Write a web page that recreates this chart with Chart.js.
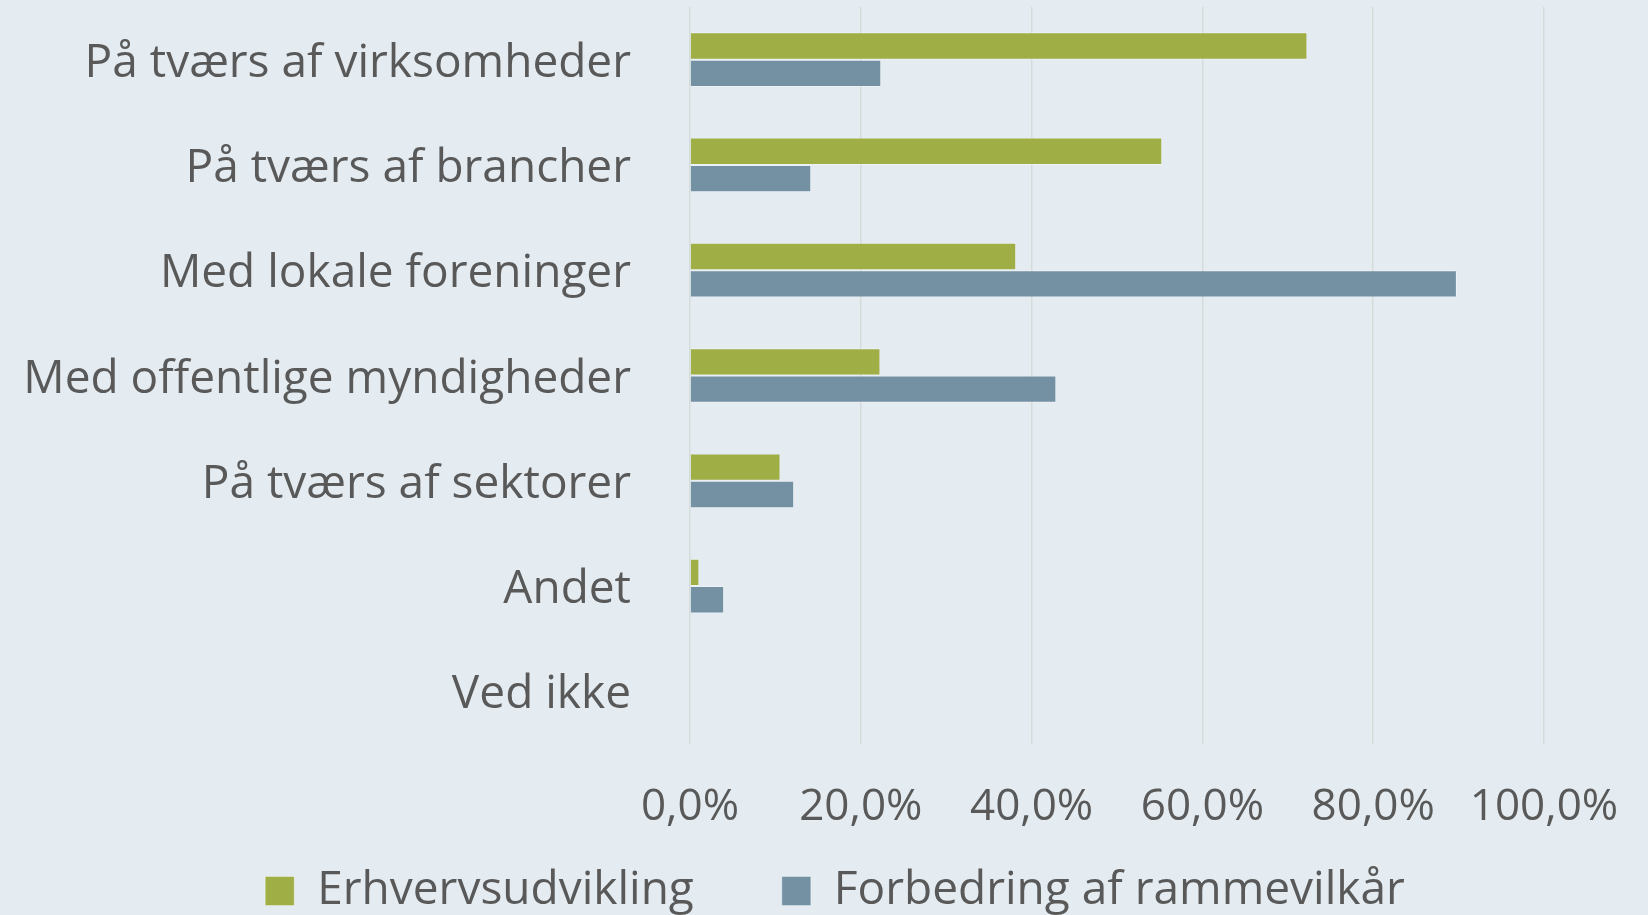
<!DOCTYPE html>
<html>
<head>
<meta charset="utf-8">
<script src="https://cdn.jsdelivr.net/npm/chart.js@4"></script>
<style>
  html, body { margin: 0; padding: 0; background: #e4ecf1; overflow: hidden; }
  #wrap { width: 1648px; height: 924px; }
</style>
</head>
<body>
<div id="wrap"><canvas id="myChart"></canvas></div>
<script>
// data
const categories = ['På tværs af virksomheder', 'På tværs af brancher', 'Med lokale foreninger',
  'Med offentlige myndigheder', 'På tværs af sektorer', 'Andet', 'Ved ikke'];
const erhvervsudvikling = [72.3, 55.3, 38.2, 22.3, 10.6, 1.1, 0];
const rammevilkaar = [22.4, 14.2, 89.8, 42.9, 12.2, 4.0, 0];
const seriesNames = ['Erhvervsudvikling', 'Forbedring af rammevilkår'];

const font = 'Open Sans';
const textColor = '#595959';
const padLeft = 126;

// labels sit outside their scale box, so don't clip them
const noClip = s => { s._computeLabelArea = () => undefined; };

var ctx = document.getElementById('myChart');

var myChart = new Chart(ctx, {
  type: 'bar',
  data: {
    labels: categories,
    datasets: [{
      label: seriesNames[0],
      data: erhvervsudvikling,
      backgroundColor: '#9fae45',
      borderColor: 'rgba(255,255,255,0.35)',
      borderWidth: 1
    }, {
      label: seriesNames[1],
      data: rammevilkaar,
      backgroundColor: '#7391a3',
      borderColor: 'rgba(255,255,255,0.35)',
      borderWidth: 1
    }]
  },
  options: {
    indexAxis: 'y',
    responsive: true,
    maintainAspectRatio: false,
    animation: false,
    categoryPercentage: 0.52,
    barPercentage: 1,
    layout: { padding: { top: 7, right: 104, left: padLeft, bottom: 0 } },
    plugins: {
      tooltip: { enabled: false },
      legend: {
        position: 'bottom',
        labels: {
          boxWidth: 29,
          boxHeight: 29,
          padding: 88,
          color: textColor,
          font: { family: font, size: 46 }
        }
      }
    },
    scales: {
      x: {
        min: 0,
        max: 100,
        afterFit: s => { s.height = 36; s.paddingLeft = 0; s.paddingRight = 0; noClip(s); },
        border: { display: false },
        grid: { color: '#d5dbd9', lineWidth: 1.5, drawTicks: false },
        ticks: {
          stepSize: 20,
          padding: 37,
          color: textColor,
          font: { family: font, size: 44 },
          callback: v => v.toFixed(1).replace('.', ',') + '%'
        }
      },
      y: {
        afterFit: s => { s.width = 690 - padLeft; s.paddingTop = 0; s.paddingBottom = 0; noClip(s); },
        border: { display: false },
        grid: { display: false },
        ticks: {
          padding: 51,
          labelOffset: 4,
          color: textColor,
          font: { family: font, size: 46 }
        }
      }
    }
  }
});
</script>
</body>
</html>
